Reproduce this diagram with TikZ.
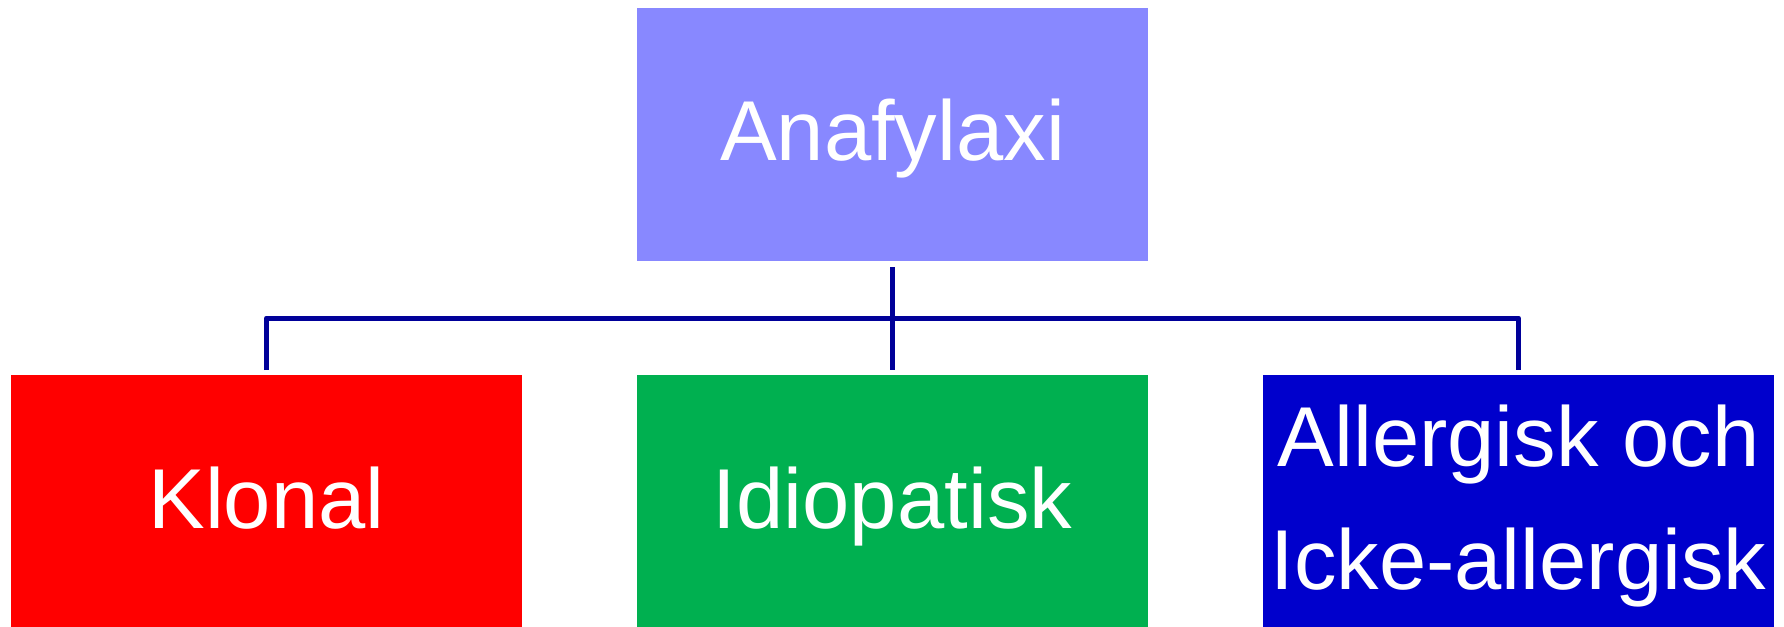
\documentclass[tikz,border=0pt]{standalone}
\usepackage{fontspec}
\setmainfont{Liberation Sans}
\definecolor{rootfill}{RGB}{136,136,255}
\definecolor{clonalfill}{RGB}{255,0,0}
\definecolor{idiofill}{RGB}{0,176,80}
\definecolor{allergfill}{RGB}{0,0,204}
\definecolor{busline}{RGB}{0,0,153}
\tikzset{
  box/.style={rectangle, draw=none, minimum width=511pt, minimum height=253pt,
              inner sep=0pt, outer sep=0pt},
  label/.style={anchor=base, text=white, inner sep=0pt,
                font=\fontsize{85}{102}\selectfont},
  conn/.style={draw=busline, line width=5pt, line join=round, line cap=butt},
}
\begin{document}
\begin{tikzpicture}[x=1pt, y=-1pt]
  \useasboundingbox (0,0) rectangle (1784,626);
  \fill[white] (0,0) rectangle (1784,626);

  % boxes
  \node[box, fill=rootfill]   (root)   at (892.5,134.5) {};
  \node[box, fill=clonalfill] (klonal) at (266.5,501.5) {};
  \node[box, fill=idiofill]   (idio)   at (892.5,501.5) {};
  \node[box, fill=allergfill] (allerg) at (1518.5,501.5) {};

  % labels, placed on their baselines
  \node[label] (rootlbl)   at (892.5,160.5) {Anafylaxi};
  \node[label] (klonallbl) at (266.5,528)   {Klonal};
  \node[label] (idiolbl)   at (892.5,528)   {Idiopatisk};
  \node[label] (allerglbl) at (1518.5,466.7) {Allergisk och};
  \node[label] (icke)      at (1518.5,589.3) {Icke-allergisk};

  % tree connector
  \coordinate (bus) at (892.5,318);
  \draw[conn] ([yshift=-6pt]root.south) -- ([yshift=5pt]idio.north);
  \draw[conn] ([yshift=5pt]klonal.north) |- (bus) -| ([yshift=5pt]allerg.north);
\end{tikzpicture}
\end{document}
